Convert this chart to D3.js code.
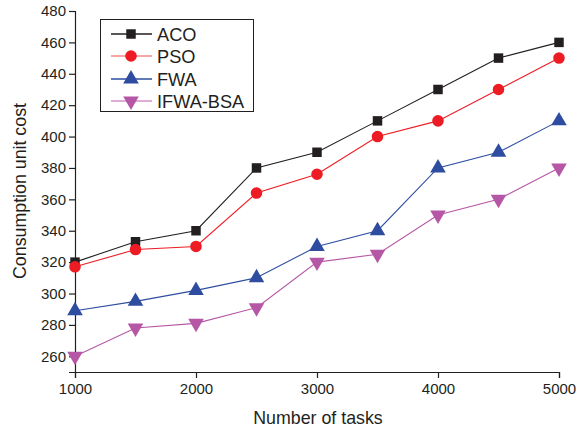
<!DOCTYPE html>
<html><head><meta charset="utf-8">
<script src="https://cdn.jsdelivr.net/npm/d3@7"></script>
<style>body{margin:0;background:#fff;}svg{display:block;font-family:"Liberation Sans",Arial,sans-serif;}</style>
</head><body><svg id="c" width="576" height="433"></svg>
<script>
const tasks = [1000,1500,2000,2500,3000,3500,4000,4500,5000];
const aco  = [320,333,340,380,390,410,430,450,460];
const pso  = [317,328,330,364,376,400,410,430,450];
const fwa  = [289,295,302,310,330,340,380,390,410];
const ifwa = [260,278,281,291,320,325,350,360,380];
const seriesNames = ["ACO","PSO","FWA","IFWA-BSA"];
const seriesColors = ["#231f20","#ed1c24","#2e4da0","#b657a6"];
const legendLineColors = ["#231f20","#f48a8a","#2e4da0","#d48fca"];
const symbols = [d3.symbolSquare, d3.symbolCircle, d3.symbolTriangle, "down"];
const xTicks = [1000,2000,3000,4000,5000];
const yTicks = [260,280,300,320,340,360,380,400,420,440,460,480];
const allSeries = [aco,pso,fwa,ifwa];

const svg = d3.select("#c");
const x = d3.scaleLinear().domain([1000,5000]).range([75,559]);
const y = d3.scaleLinear().domain([250,480]).range([372,11]);

const gx = svg.append("g").attr("transform","translate(0,372)");
gx.call(d3.axisBottom(x).tickValues(d3.range(1000,5001,500)).tickSize(4).tickFormat(""));
gx.call(d3.axisBottom(x).tickValues(xTicks).tickSize(6).tickFormat(d3.format("d")));
gx.selectAll("text").attr("font-size",15).attr("fill","#231f20").attr("dy","0.85em");
gx.selectAll("path,line").attr("stroke","#231f20").attr("stroke-width",1.2);

const gy = svg.append("g").attr("transform","translate(75,0)");
gy.call(d3.axisLeft(y).tickValues(d3.range(250,481,10)).tickSize(4).tickFormat(""));
gy.call(d3.axisLeft(y).tickValues(yTicks).tickSize(6).tickFormat(d3.format("d")));
gy.selectAll("text").attr("font-size",15).attr("fill","#231f20");
gy.selectAll("path,line").attr("stroke","#231f20").attr("stroke-width",1.2);

function sym(i, size){
  if(symbols[i]==="down") return d3.symbol().type(d3.symbolTriangle).size(size)();
  return d3.symbol().type(symbols[i]).size(size)();
}
const sizes=[90,105,105,105];

allSeries.forEach((vals,i)=>{
  const line = d3.line().x((d,j)=>x(tasks[j])).y(d=>y(d));
  svg.append("path").datum(vals).attr("d",line).attr("fill","none")
    .attr("stroke",seriesColors[i]).attr("stroke-width",1.1);
  svg.selectAll(null).data(vals).enter().append("path")
    .attr("d",sym(i,sizes[i]))
    .attr("transform",(d,j)=>`translate(${x(tasks[j])},${y(d)})${symbols[i]==="down"?" rotate(180)":""}`)
    .attr("fill",seriesColors[i]);
});

const lg = svg.append("g");
lg.append("rect").attr("x",100.5).attr("y",19.5).attr("width",153).attr("height",92)
  .attr("fill","#fff").attr("stroke","#231f20").attr("stroke-width",1);
const rowsY=[34,56,79,101];
seriesNames.forEach((n,i)=>{
  lg.append("line").attr("x1",111).attr("x2",152).attr("y1",rowsY[i]).attr("y2",rowsY[i])
    .attr("stroke",legendLineColors[i]).attr("stroke-width",1.3);
  lg.append("path").attr("d",sym(i,sizes[i]))
    .attr("transform",`translate(131,${rowsY[i]})${symbols[i]==="down"?" rotate(180)":""}`)
    .attr("fill",seriesColors[i]);
  lg.append("text").attr("x",157).attr("y",rowsY[i]).attr("dy","0.36em")
    .attr("font-size",18.2).attr("fill","#231f20").text(n);
});

svg.append("text").attr("x",318).attr("y",424).attr("text-anchor","middle")
  .attr("font-size",17.8).attr("fill","#231f20").text("Number of tasks");
svg.append("text").attr("transform","translate(26,191) rotate(-90)").attr("text-anchor","middle")
  .attr("font-size",17.8).attr("fill","#231f20").text("Consumption unit cost");
</script></body></html>
